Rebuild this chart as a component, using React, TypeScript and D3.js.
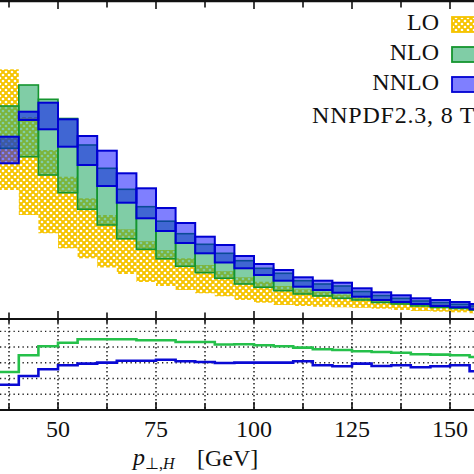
import React from "react";
import * as d3 from "d3";

// bin lower edges (GeV), width 5 GeV
const binStarts = [35, 40, 45, 50, 55, 60, 65, 70, 75, 80, 85, 90, 95, 100, 105, 110, 115, 120, 125, 130, 135, 140, 145, 150, 155];
const binWidth = 5;

// upper panel bands (arbitrary units)
const loHigh = [2.497, 2.02, 1.69, 1.423, 1.207, 1.04, 0.897, 0.778, 0.69, 0.607, 0.54, 0.478, 0.417, 0.373, 0.33, 0.297, 0.273, 0.245, 0.223, 0.2, 0.18, 0.16, 0.145, 0.13, 0.115];
const loLow = [1.29, 1.04, 0.857, 0.707, 0.607, 0.515, 0.45, 0.37, 0.33, 0.29, 0.257, 0.227, 0.19, 0.163, 0.14, 0.13, 0.122, 0.117, 0.112, 0.103, 0.09, 0.08, 0.073, 0.067, 0.057];
const nloHigh = [2.13, 2.34, 2.197, 2.005, 1.74, 1.507, 1.297, 1.123, 0.978, 0.853, 0.747, 0.657, 0.583, 0.507, 0.457, 0.383, 0.35, 0.33, 0.275, 0.235, 0.207, 0.18, 0.165, 0.147, 0.13];
const nloLow = [1.707, 1.623, 1.44, 1.263, 1.097, 0.94, 0.802, 0.697, 0.602, 0.527, 0.463, 0.407, 0.35, 0.317, 0.283, 0.25, 0.23, 0.207, 0.19, 0.165, 0.15, 0.13, 0.115, 0.105, 0.09];
const nnloHigh = [1.823, 2.073, 2.163, 1.997, 1.83, 1.683, 1.457, 1.307, 1.11, 0.96, 0.823, 0.74, 0.63, 0.55, 0.49, 0.417, 0.383, 0.363, 0.307, 0.267, 0.237, 0.207, 0.19, 0.17, 0.15];
const nnloLow = [1.557, 1.99, 1.897, 1.723, 1.54, 1.33, 1.163, 1.007, 0.88, 0.76, 0.657, 0.565, 0.507, 0.44, 0.383, 0.323, 0.29, 0.263, 0.223, 0.19, 0.17, 0.15, 0.13, 0.117, 0.097];

// lower panel ratios
const ratioNLO = [1.354, 1.619, 1.762, 1.819, 1.873, 1.873, 1.873, 1.857, 1.857, 1.83, 1.83, 1.79, 1.795, 1.778, 1.762, 1.74, 1.714, 1.703, 1.683, 1.671, 1.66, 1.635, 1.629, 1.619, 1.592];
const ratioNNLO = [1.152, 1.29, 1.397, 1.46, 1.486, 1.502, 1.533, 1.533, 1.549, 1.524, 1.513, 1.497, 1.502, 1.502, 1.502, 1.524, 1.46, 1.444, 1.486, 1.449, 1.46, 1.429, 1.444, 1.46, 1.365];

const xTickLabels = [50, 75, 100, 125, 150];
const xTicksAll = [37.5, 50, 62.5, 75, 87.5, 100, 112.5, 125, 137.5, 150];
const ratioGrid = [1.0, 1.25, 1.5, 1.75, 2.0];
const legendLabels = ["LO", "NLO", "NNLO"];
const infoText = "NNPDF2.3, 8 TeV";

const SERIF = "'Liberation Serif', 'Times New Roman', serif";
const YELLOW = "#f6c400";
const NLO_FILL = "#25a866";
const NLO_STROKE = "#15952f";
const NNLO_FILL = "#0000ff";
const NNLO_STROKE = "#0000d2";

export default function App() {
  const x = d3.scaleLinear().domain([30, 160]).range([-20.4, 489.2]);
  const y = d3.scaleLinear().domain([0, 3.18]).range([319, 1]);
  const yr = d3.scaleLinear().domain([0.75, 2.195]).range([410, 319]);

  const bands = [
    { hi: loHigh, lo: loLow, fill: "url(#loHatch)", op: 1, stroke: "none", sw: 0 },
    { hi: nloHigh, lo: nloLow, fill: NLO_FILL, op: 0.58, stroke: NLO_STROKE, sw: 1.6 },
    { hi: nnloHigh, lo: nnloLow, fill: NNLO_FILL, op: 0.5, stroke: NNLO_STROKE, sw: 2 },
  ];

  const stepPts = (vals: number[]) => {
    const pts: [number, number][] = [];
    vals.forEach((v, i) => {
      pts.push([x(binStarts[i]), yr(v)]);
      pts.push([x(binStarts[i] + binWidth), yr(v)]);
    });
    return pts;
  };
  const line = d3.line<[number, number]>().x((d) => d[0]).y((d) => d[1]);

  const legendSwatch = [
    { fill: "url(#loHatch)", op: 1, stroke: YELLOW, y: 17 },
    { fill: NLO_FILL, op: 0.58, stroke: NLO_STROKE, y: 47 },
    { fill: NNLO_FILL, op: 0.5, stroke: NNLO_STROKE, y: 77 },
  ];

  return (
    <svg
      width={474}
      height={474}
      style={{ position: "absolute", left: 0, top: 0, background: "#fff" }}
      fontFamily={SERIF}
    >
      <defs>
        <pattern id="loHatch" patternUnits="userSpaceOnUse" width={6} height={6}>
          <rect width={6} height={6} fill={YELLOW} />
          <circle cx={0} cy={0} r={1.35} fill="#fff" />
          <circle cx={6} cy={0} r={1.35} fill="#fff" />
          <circle cx={0} cy={6} r={1.35} fill="#fff" />
          <circle cx={6} cy={6} r={1.35} fill="#fff" />
          <circle cx={3} cy={3} r={1.35} fill="#fff" />
        </pattern>
      </defs>
      <rect width={474} height={474} fill="#fff" />

      {/* upper panel bands */}
      {bands.map((b, k) => (
        <g key={k}>
          {binStarts.map((s, i) => (
            <rect
              key={i}
              x={x(s)}
              width={x(s + binWidth) - x(s)}
              y={y(b.hi[i])}
              height={y(b.lo[i]) - y(b.hi[i])}
              fill={b.fill}
              fillOpacity={b.op}
              stroke={b.stroke}
              strokeWidth={b.sw}
            />
          ))}
        </g>
      ))}

      {/* lower panel grid */}
      {ratioGrid.map((g) => (
        <line key={"h" + g} x1={0} x2={474} y1={yr(g)} y2={yr(g)} stroke="#222" strokeWidth={1.3} strokeDasharray="1.3,3.2" />
      ))}
      {xTicksAll.map((t) => (
        <line key={"v" + t} x1={x(t)} x2={x(t)} y1={319} y2={410} stroke="#111" strokeWidth={1.4} strokeDasharray="1.4,2.6" />
      ))}

      {/* ratio lines */}
      <path d={line(stepPts(ratioNLO)) || ""} fill="none" stroke="#25c04a" strokeWidth={2.6} />
      <path d={line(stepPts(ratioNNLO)) || ""} fill="none" stroke="#0a0ad4" strokeWidth={2.6} />

      {/* frames */}
      <line x1={0} x2={474} y1={1} y2={1} stroke="#111" strokeWidth={2.4} />
      <line x1={0} x2={474} y1={319} y2={319} stroke="#111" strokeWidth={2.2} />
      <line x1={0} x2={474} y1={410} y2={410} stroke="#111" strokeWidth={2.2} />

      {/* ticks */}
      {xTicksAll.map((t) => {
        const major = xTickLabels.includes(t);
        const len = major ? 8 : 6.5;
        return (
          <g key={"t" + t} stroke="#111" strokeWidth={1.6}>
            <line x1={x(t)} x2={x(t)} y1={1} y2={1 + len} />
            <line x1={x(t)} x2={x(t)} y1={319} y2={319 - len} />
            <line x1={x(t)} x2={x(t)} y1={319} y2={319 + 4} />
            <line x1={x(t)} x2={x(t)} y1={410} y2={410 - len} />
          </g>
        );
      })}

      {/* tick labels */}
      {xTickLabels.map((t) => (
        <text key={"l" + t} x={x(t)} y={436.5} fontSize={24} textAnchor="middle" fill="#111">
          {t}
        </text>
      ))}

      {/* x label */}
      <text x={133} y={465} fontSize={24} fill="#111">
        <tspan fontStyle="italic">p</tspan>
        <tspan fontSize={16} dy={4}>⊥,</tspan>
        <tspan fontSize={16} fontStyle="italic">H</tspan>
      </text>
      <text x={197} y={466} fontSize={24} fill="#111">[GeV]</text>

      {/* legend */}
      {legendLabels.map((lab, i) => (
        <g key={lab}>
          <text x={439} y={30 + i * 30} fontSize={24} textAnchor="end" fill="#111">
            {lab}
          </text>
          <rect
            x={452}
            y={legendSwatch[i].y}
            width={30}
            height={15}
            fill={legendSwatch[i].fill}
            fillOpacity={legendSwatch[i].op}
            stroke={legendSwatch[i].stroke}
            strokeWidth={1.8}
          />
        </g>
      ))}
      <text x={312} y={123} fontSize={24} letterSpacing={0.8} fill="#111">
        {infoText}
      </text>
    </svg>
  );
}
